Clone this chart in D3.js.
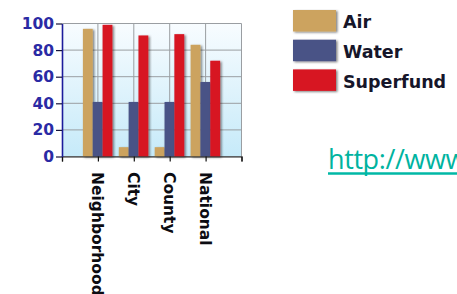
<!DOCTYPE html>
<html>
<head>
<meta charset="utf-8">
<script src="https://cdn.jsdelivr.net/npm/d3@7"></script>
<style>
  body { margin: 0; background: #fff; }
  svg { display: block; overflow: hidden; }
</style>
</head>
<body>
<div id="chart"></div>
<script>
// data
var categories = ["Neighborhood", "City", "County", "National"];
var seriesNames = ["Air", "Water", "Superfund"];
var airValues = [96, 7, 7, 84];
var waterValues = [41, 41, 41, 56];
var superfundValues = [99, 91, 92, 72];
var yTicks = [0, 20, 40, 60, 80, 100];
var seriesColors = ["#cca35e", "#4a5286", "#d71424"];
var linkText = "http://www.epa.gov/";

var seriesValues = [airValues, waterValues, superfundValues];

var margin = {top: 23.5, right: 215.5, bottom: 137.5, left: 62},
    width = 457 - margin.left - margin.right,
    height = 294 - margin.top - margin.bottom;

var svgRoot = d3.select("#chart").append("svg")
    .attr("width", 457)
    .attr("height", 294);

var defs = svgRoot.append("defs");
var grad = defs.append("linearGradient")
    .attr("id", "bg").attr("x1", 0).attr("y1", 0).attr("x2", 0).attr("y2", 1);
grad.append("stop").attr("offset", "0%").attr("stop-color", "#f8fcff");
grad.append("stop").attr("offset", "100%").attr("stop-color", "#c6eaf9");

var shadow = defs.append("filter").attr("id", "shadow")
    .attr("x", "-30%").attr("y", "-10%").attr("width", "160%").attr("height", "130%");
shadow.append("feDropShadow")
    .attr("dx", 1.5).attr("dy", 1).attr("stdDeviation", 0.8)
    .attr("flood-color", "#000").attr("flood-opacity", 0.5);

var svg = svgRoot.append("g")
    .attr("transform", "translate(" + margin.left + "," + margin.top + ")");

// scales
var x = d3.scaleLinear()
    .domain([0, categories.length + 1])
    .range([0, width]);

var x1 = d3.scaleBand()
    .domain(seriesNames)
    .range([-15, 14.5]);

var y = d3.scaleLinear()
    .domain([0, 100])
    .range([height, 0]);

// plot background
svg.append("rect")
    .attr("width", width)
    .attr("height", height)
    .attr("fill", "url(#bg)");

// grid lines
svg.append("g")
    .selectAll("line")
    .data(yTicks)
  .enter().append("line")
    .attr("x1", 0).attr("x2", width)
    .attr("y1", function(d) { return y(d); })
    .attr("y2", function(d) { return y(d); })
    .attr("stroke", "#9a9ea2").attr("stroke-width", 1);

svg.append("g")
    .selectAll("line")
    .data(d3.range(1, categories.length + 2))
  .enter().append("line")
    .attr("x1", function(d) { return x(d); })
    .attr("x2", function(d) { return x(d); })
    .attr("y1", 0).attr("y2", height)
    .attr("stroke", "#9a9ea2").attr("stroke-width", 1);

// bars
var groups = svg.selectAll(".group")
    .data(categories)
  .enter().append("g")
    .attr("class", "group")
    .attr("transform", function(d, i) { return "translate(" + x(i + 1) + ",0)"; });

groups.selectAll("rect")
    .data(function(d, i) {
      return seriesNames.map(function(s, j) { return {key: s, value: seriesValues[j][i], color: seriesColors[j]}; });
    })
  .enter().append("rect")
    .attr("x", function(d) { return x1(d.key); })
    .attr("width", x1.bandwidth())
    .attr("y", function(d) { return y(d.value); })
    .attr("height", function(d) { return height - y(d.value); })
    .attr("fill", function(d) { return d.color; })
    .attr("filter", "url(#shadow)");

// x axis
var xAxis = svg.append("g")
    .attr("transform", "translate(0," + height + ")")
    .call(d3.axisBottom(x).tickValues(d3.range(0, categories.length + 2)).tickSize(5).tickFormat(""));
xAxis.select(".domain").attr("stroke", "#222").attr("stroke-width", 1.2);
xAxis.selectAll(".tick line").attr("stroke", "#111").attr("stroke-width", 1.2);

svg.append("g")
    .selectAll("text")
    .data(categories)
  .enter().append("text")
    .attr("transform", function(d, i) { return "translate(" + x(i + 1) + "," + (height + 15.5) + ") rotate(90)"; })
    .attr("dy", "0.35em")
    .attr("text-anchor", "start")
    .style("font-family", "'DejaVu Sans', Verdana, sans-serif")
    .style("font-weight", "bold")
    .style("font-size", "15.5px")
    .attr("fill", "#0c0c12")
    .text(function(d) { return d; });

// y axis
var yAxis = svg.append("g")
    .call(d3.axisLeft(y).tickValues(yTicks).tickSize(6).tickPadding(2).tickSizeOuter(0));
yAxis.select(".domain").attr("stroke", "#1c1c9c").attr("stroke-width", 1.6);
yAxis.selectAll(".tick line").attr("stroke", "#14143a").attr("stroke-width", 1.2);
yAxis.selectAll(".tick text")
    .style("font-family", "'DejaVu Sans', Verdana, sans-serif")
    .style("font-weight", "bold")
    .style("font-size", "15.5px")
    .attr("fill", "#2a2aa4");

// legend
var legend = svgRoot.append("g")
    .attr("transform", "translate(293,10)");

var legendItems = legend.selectAll(".item")
    .data(seriesNames)
  .enter().append("g")
    .attr("class", "item")
    .attr("transform", function(d, i) { return "translate(0," + (i * 29.7) + ")"; });

legendItems.append("rect")
    .attr("width", 43)
    .attr("height", 21.5)
    .attr("fill", function(d, i) { return seriesColors[i]; })
    .attr("filter", "url(#shadow)");

legendItems.append("text")
    .attr("x", 50)
    .attr("y", 18.3)
    .style("font-family", "'DejaVu Sans', Verdana, sans-serif")
    .style("font-weight", "bold")
    .style("font-size", "17.5px")
    .attr("fill", "#16162a")
    .text(function(d) { return d; });

// link text
svgRoot.append("text")
    .attr("x", 328)
    .attr("y", 169.3)
    .style("font-family", "'Open Sans', 'Noto Sans', sans-serif")
    .style("font-size", "27px")
    .style("letter-spacing", "-0.4px")
    .attr("fill", "#00b3a0")
    .text(linkText);

svgRoot.append("line")
    .attr("x1", 328).attr("x2", 457)
    .attr("y1", 173.5).attr("y2", 173.5)
    .attr("stroke", "#00b8a6").attr("stroke-width", 2.6);
</script>
</body>
</html>
